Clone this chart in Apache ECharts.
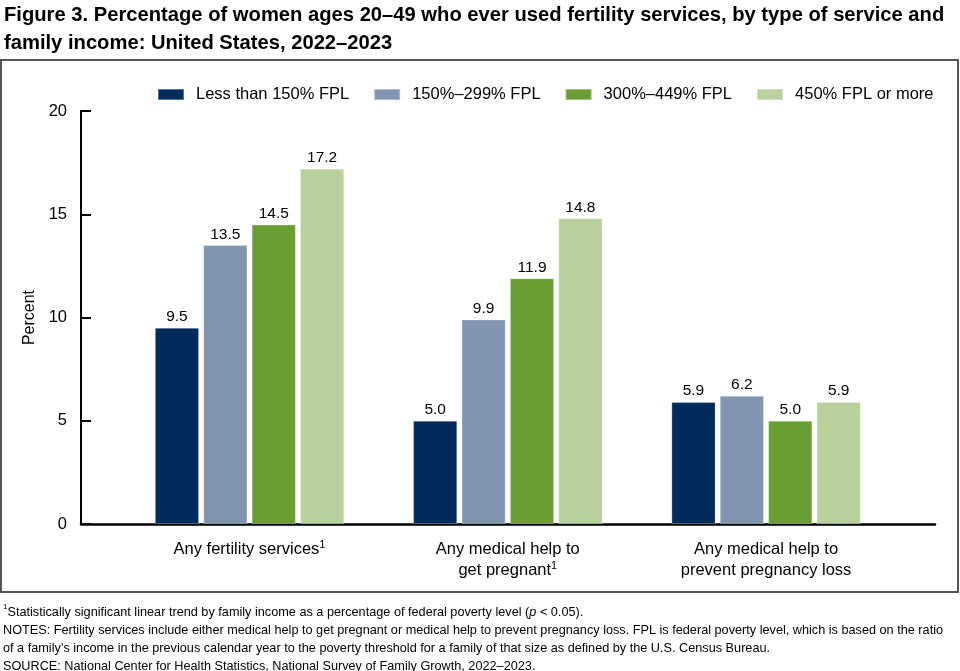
<!DOCTYPE html>
<html>
<head>
<meta charset="utf-8">
<script src="https://cdn.jsdelivr.net/npm/echarts@6/dist/echarts.min.js"></script>
<style>html,body{margin:0;padding:0;background:#fff}#c{width:960px;height:671px}</style>
</head>
<body>
<div id="c"></div>
<script>
const categories = ['Any fertility services{sup|1}', 'Any medical help to\nget pregnant{sup|1}', 'Any medical help to\nprevent pregnancy loss'];
const seriesNames = ['Less than 150% FPL', '150%\u2013299% FPL', '300%\u2013449% FPL', '450% FPL or more'];
const lessThan150 = [9.5, 5.0, 5.9];
const fpl150to299 = [13.5, 9.9, 6.2];
const fpl300to449 = [14.5, 11.9, 5.0];
const fpl450plus = [17.2, 14.8, 5.9];
const yTicks = [0, 5, 10, 15, 20];
const colors = ['#002b5c', '#8095af', '#6b9e32', '#b8d09c'];

const seriesData = [lessThan150, fpl150to299, fpl300to449, fpl450plus];
const FONT = 'Liberation Sans, Arial, sans-serif';

const chart = echarts.init(document.getElementById('c'), null, {renderer: 'canvas'});
chart.setOption({
  animation: false,
  backgroundColor: '#fff',
  textStyle: {fontFamily: FONT},
  title: {
    text: 'Figure 3. Percentage of women ages 20\u201349 who ever used fertility services, by type of service and\nfamily income: United States, 2022\u20132023',
    left: 4, top: 1, padding: 0,
    textStyle: {fontFamily: FONT, fontSize: 20.2, fontWeight: 'bold', color: '#000', lineHeight: 28}
  },
  graphic: [
    {type: 'rect', shape: {x: 1, y: 60, width: 957, height: 532}, style: {fill: 'none', stroke: '#555', lineWidth: 2}, silent: true, z: -1},
    {type: 'text', left: 3, top: 603, style: {
      text: '{s|1}Statistically significant linear trend by family income as a percentage of federal poverty level ({i|p} < 0.05).\nNOTES: Fertility services include either medical help to get pregnant or medical help to prevent pregnancy loss. FPL is federal poverty level, which is based on the ratio\nof a family\u2019s income in the previous calendar year to the poverty threshold for a family of that size as defined by the U.S. Census Bureau.\nSOURCE: National Center for Health Statistics, National Survey of Family Growth, 2022\u20132023.',
      font: '12.7px ' + FONT, fill: '#000', lineHeight: 18,
      rich: {s: {fontSize: 8, verticalAlign: 'top', lineHeight: 18, fontFamily: FONT}, i: {fontStyle: 'italic', fontSize: 12.7, fontFamily: FONT, lineHeight: 18}}
    }}
  ],
  legend: {
    data: seriesNames,
    left: 157, top: 86,
    icon: 'rect', itemWidth: 26, itemHeight: 11, itemGap: 24,
    padding: 0,
    textStyle: {fontFamily: FONT, fontSize: 16.5, color: '#000', padding: [0, 0, 0, 7]}
  },
  grid: [
    {left: 81, top: 111, width: 854, height: 413, containLabel: false},
    {left: 120.4, top: 111, width: 774.8, height: 413, containLabel: false}
  ],
  xAxis: [
    {gridIndex: 0, type: 'value', min: 0, max: 1, axisLine: {show: true, onZero: false, lineStyle: {color: '#000', width: 2.5}}, axisTick: {show: false}, axisLabel: {show: false}, splitLine: {show: false}},
    {gridIndex: 1, type: 'category', data: categories, axisLine: {show: false}, axisTick: {show: false}, splitLine: {show: false},
     axisLabel: {interval: 0, margin: 15, fontSize: 16.5, color: '#000', lineHeight: 21, fontFamily: FONT,
       rich: {sup: {fontSize: 11, verticalAlign: 'top', lineHeight: 21, fontFamily: FONT, color: '#000'}}}}
  ],
  yAxis: [
    {gridIndex: 0, type: 'value', min: 0, max: 20, interval: 5,
     name: 'Percent', nameLocation: 'middle', nameGap: 38, nameRotate: 90,
     nameTextStyle: {fontSize: 16, color: '#000', fontFamily: FONT},
     axisLine: {show: true, lineStyle: {color: '#000', width: 2}},
     axisTick: {show: true, inside: true, length: 10, lineStyle: {color: '#000', width: 2}},
     axisLabel: {fontSize: 16.5, color: '#000', margin: 14, fontFamily: FONT, formatter: v => yTicks.includes(v) ? String(v) : ''},
     splitLine: {show: false}},
    {gridIndex: 1, type: 'value', min: 0, max: 20, interval: 5, show: false, splitLine: {show: false}}
  ],
  series: seriesNames.map((name, i) => ({
    name: name,
    type: 'bar',
    xAxisIndex: 1, yAxisIndex: 1,
    data: seriesData[i],
    barWidth: 44,
    barGap: '10%',
    itemStyle: {color: colors[i], borderColor: 'rgba(255,255,255,0.35)', borderWidth: 0.8},
    label: {show: true, position: 'top', distance: 3, fontSize: 15.5, color: '#000', fontFamily: FONT, formatter: p => p.value.toFixed(1)}
  }))
});
</script>
</body>
</html>
